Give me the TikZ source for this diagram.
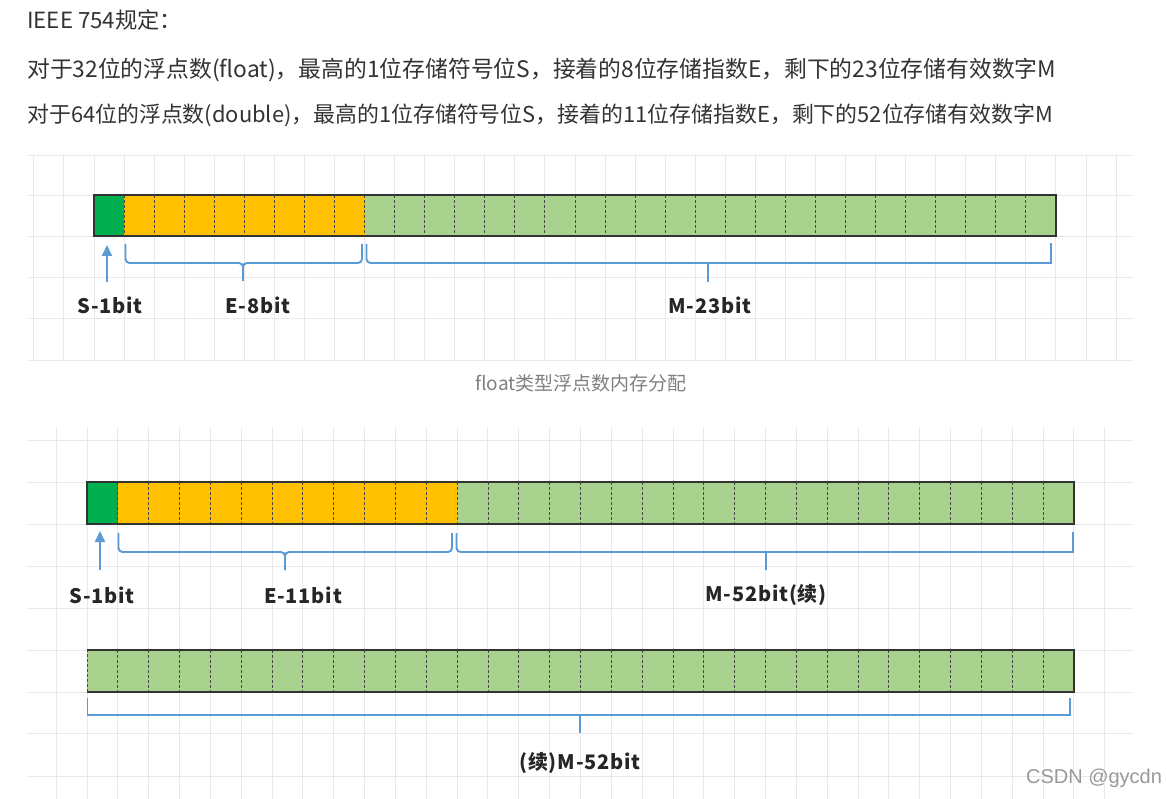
\documentclass[tikz,border=0pt]{standalone}
\usepackage{fontspec}
\setmainfont{Noto Sans CJK SC}
\newfontfamily\wmfont{Liberation Sans}
\newfontfamily\lblfont{Noto Sans CJK SC}[LetterSpace=4]
\usetikzlibrary{arrows.meta,calc}
\definecolor{sgreen}{HTML}{00B050}
\definecolor{eorange}{HTML}{FFC000}
\definecolor{mgreen}{HTML}{A9D18E}
\definecolor{brblue}{HTML}{5B9BD5}
\definecolor{gridc}{HTML}{E8E8E8}
\definecolor{txt}{HTML}{333333}
\begin{document}
\begin{tikzpicture}[x=1pt,y=-1pt,
  gridline/.style={draw=gridc, line width=0.9pt},
  seg/.style={inner sep=0pt, outer sep=0pt, draw=none},
  barborder/.style={draw=black!80, line width=1.3pt},
  divider/.style={draw=black!72, line width=0.85pt, dash pattern=on 3pt off 2pt},
  brack/.style={draw=brblue, line width=1.9pt},
  uparrow/.style={draw=brblue, line width=1.9pt, -{Triangle[length=11pt,width=10pt]}},
  lbl/.style={font=\lblfont\fontsize{20}{20}\selectfont\bfseries, text=black!85, inner sep=0pt},
  header/.style={text=txt, anchor=west, inner sep=0pt},
  caption/.style={font=\fontsize{19}{19}\selectfont, text=black!50, inner sep=0pt},
  wmark/.style={font=\wmfont\fontsize{20}{20}\selectfont, text=black!40, inner sep=0pt}
]
\useasboundingbox[fill=white] (0,0) rectangle (1167,799);

% ---------- header text ----------
\node[header, font=\fontsize{22.3}{22.3}\selectfont] (h1) at (27,20) {IEEE 754规定：};
\node[header, font=\fontsize{22.8}{22.8}\selectfont] (h2) at (27,70) {对于32位的浮点数(float)，最高的1位存储符号位S，接着的8位存储指数E，剩下的23位存储有效数字M};
\node[header, font=\fontsize{21.9}{21.9}\selectfont] (h3) at (27,115) {对于64位的浮点数(double)，最高的1位存储符号位S，接着的11位存储指数E，剩下的52位存储有效数字M};

% ---------- float grid ----------
\foreach \yy in {155,195,236,277,318,360} \draw[gridline] (28,\yy) -- (1133,\yy);
\foreach \k in {-2,...,34} \draw[gridline] ({94+30.06*\k},155) -- ({94+30.06*\k},360);

% ---------- double grid ----------
\foreach \yy in {440,482,524,566,608,650,692,733,776} \draw[gridline] (27,\yy) -- (1133,\yy);
\foreach \k in {-1,...,33} \draw[gridline] ({87+30.84*\k},428) -- ({87+30.84*\k},799);

% ---------- float bar ----------
\node[seg, fill=sgreen, minimum width=30.06pt, minimum height=41pt] (fS) at (109.03,215.5) {};
\node[seg, fill=eorange, minimum width=240.48pt, minimum height=41pt] (fE) at (244.30,215.5) {};
\node[seg, fill=mgreen, minimum width=691.46pt, minimum height=41pt] (fM) at (710.27,215.5) {};
\foreach \k in {1,...,31} \draw[divider] ({94+30.06*\k},195) -- ({94+30.06*\k},236);
\draw[barborder] (fS.north west) rectangle (fM.south east);

% float labels
\node[lbl] (fSl) at (110,305) {S-1bit};
\node[lbl] (fEl) at (258,305) {E-8bit};
\node[lbl] (fMl) at (710,305) {M-23bit};

% float arrow and brackets
\coordinate (fSa) at (107,282);
\draw[uparrow] (fSa) -- (107,245);
\coordinate (fEmid) at (243,263);
\coordinate (fEtick) at (243,281);
\draw[brack, rounded corners=4pt] (125.5,244) |- (fEmid) -- (fEtick);
\draw[brack, rounded corners=4pt] (362,244) |- (fEmid) -- (fEtick);
\coordinate (fMmid) at (708,263);
\coordinate (fMtick) at (708,282);
\draw[brack, rounded corners=4pt] (366.5,244) |- (fMmid);
\draw[brack] (fMmid) -- (1051,263) -- (1051,243);
\draw[brack] (fMmid) -- (fMtick);

% caption
\node[caption] (cap) at (581,383) {float类型浮点数内存分配};

% ---------- double bar 1 ----------
\node[seg, fill=sgreen, minimum width=30.84pt, minimum height=42pt] (dS) at (102.42,503) {};
\node[seg, fill=eorange, minimum width=339.24pt, minimum height=42pt] (dE) at (287.46,503) {};
\node[seg, fill=mgreen, minimum width=616.8pt, minimum height=42pt] (dM) at (765.48,503) {};
\foreach \k in {1,...,31} \draw[divider] ({87+30.84*\k},482) -- ({87+30.84*\k},524);
\draw[barborder] (dS.north west) rectangle (dM.south east);

\node[lbl] (dSl) at (102,595) {S-1bit};
\node[lbl] (dEl) at (303,595) {E-11bit};
\node[lbl] (dMl) at (766,595) {M-52bit(续)};

\coordinate (dSa) at (100,570);
\draw[uparrow] (dSa) -- (100,531);
\coordinate (dEmid) at (285,552);
\coordinate (dEtick) at (285,570);
\draw[brack, rounded corners=4pt] (118.5,533) |- (dEmid) -- (dEtick);
\draw[brack, rounded corners=4pt] (452,533) |- (dEmid) -- (dEtick);
\coordinate (dMmid) at (766,552);
\coordinate (dMtick) at (766,570);
\draw[brack, rounded corners=4pt] (456.5,533) |- (dMmid);
\draw[brack] (dMmid) -- (1073,552) -- (1073,532);
\draw[brack] (dMmid) -- (dMtick);

% ---------- double bar 2 ----------
\node[seg, fill=mgreen, minimum width=987pt, minimum height=42pt] (d2) at (580.5,671) {};
\foreach \k in {1,...,31} \draw[divider] ({87+30.84*\k},650) -- ({87+30.84*\k},692);
\draw[barborder] (d2.north west) -- (d2.north east) -- (d2.south east) -- (d2.south west);
\draw[divider] (d2.south west) -- (d2.north west);

\node[lbl] (d2l) at (580,763) {(续)M-52bit};
\coordinate (d2mid) at (580,715);
\coordinate (d2tick) at (580,733);
\draw[brack] (87.5,698) -- (87.5,715) -- (1070,715) -- (1070,698);
\draw[brack] (d2mid) -- (d2tick);

% watermark
\node[wmark] (wm) at (1094,778) {CSDN @gycdn};
\end{tikzpicture}
\end{document}
